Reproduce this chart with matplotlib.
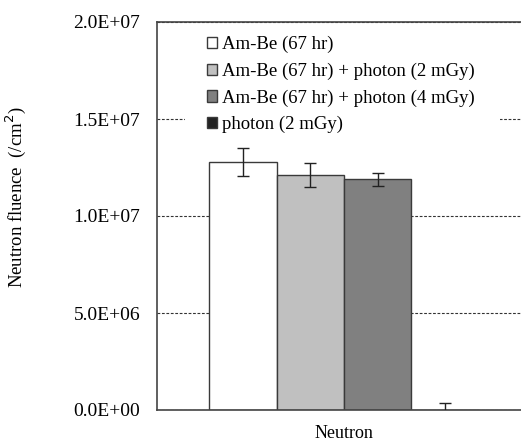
import numpy as np
import matplotlib.pyplot as plt
from matplotlib.patches import Rectangle

plt.rcParams['font.family'] = ['Liberation Serif', 'DejaVu Serif']

# Neutron fluence per irradiation condition
labels = ['Am-Be (67 hr)', 'Am-Be (67 hr) + photon (2 mGy)',
          'Am-Be (67 hr) + photon (4 mGy)', 'photon (2 mGy)']
fluence = [1.278e7, 1.211e7, 1.190e7, 0.0]
errors = [0.070e7, 0.064e7, 0.033e7, 0.035e7]
colors = ['#ffffff', '#c0c0c0', '#808080', '#222222']
yticks = [0, 5e6, 1e7, 1.5e7, 2e7]
ytick_labels = ['0.0E+00', '5.0E+06', '1.0E+07', '1.5E+07', '2.0E+07']

fig = plt.figure(figsize=(5.21, 4.46), dpi=100)
ax = fig.add_axes([157 / 521, 36 / 446, 374 / 521, 388 / 446])

width = 0.18
x = (np.arange(len(fluence)) - 1.5) * width
for xi, v, e, c, lab in zip(x, fluence, errors, colors, labels):
    ax.bar(xi, v, width=width, color=c, edgecolor='#3a3a3a', linewidth=1.0,
           label=lab, zorder=2)
    ax.errorbar(xi, v, yerr=e, fmt='none', ecolor='#222222', elinewidth=1.0,
                capsize=4, capthick=1.0, zorder=3)

ax.set_xlim(-0.5, 0.5)
ax.set_ylim(0, 2e7)
ax.set_yticks(yticks)
ax.set_yticklabels(ytick_labels, fontsize=14)
ax.tick_params(axis='y', length=0, pad=12)
ax.set_xticks([0])
ax.set_xticklabels(['Neutron'], fontsize=13)
ax.tick_params(axis='x', length=0, pad=11)
ax.yaxis.grid(True, linestyle=(0, (2.5, 1.5)), color='#333333', linewidth=0.8, zorder=0)
ax.set_axisbelow(True)
for s in ['left', 'bottom', 'top', 'right']:
    ax.spines[s].set_color('#444444')
    ax.spines[s].set_linewidth(1.2)

ax.set_ylabel('Neutron fluence  (/cm$^2$)', fontsize=13.5)
ax.yaxis.set_label_coords(-0.345, 0.549)

# white legend area hides the gridline behind it
ax.add_patch(Rectangle((0.075, 0.71), 0.842, 0.28, transform=ax.transAxes,
                       facecolor='white', edgecolor='none', zorder=1))

leg = ax.legend(loc='upper left', bbox_to_anchor=(0.095, 1.0), frameon=False,
                fontsize=13.5, handlelength=0.55, handleheight=0.55,
                handletextpad=0.25, labelspacing=0.5, borderaxespad=0.35)

fig.savefig('out.png', dpi=100)
